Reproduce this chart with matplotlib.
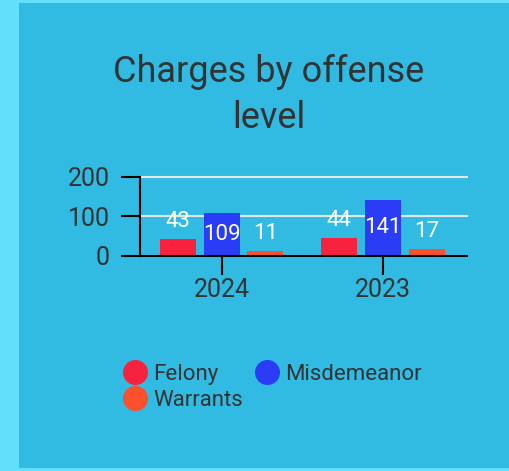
import numpy as np
import matplotlib.pyplot as plt
from matplotlib.patches import Rectangle
from matplotlib.lines import Line2D

plt.rcParams['font.family'] = ['Roboto', 'DejaVu Sans']

years = ["2024", "2023"]
series = ["Felony", "Misdemeanor", "Warrants"]
felony = [43, 44]
misdemeanor = [109, 141]
warrants = [11, 17]
colors = ["#f7233e", "#2a3cf6", "#f9502e"]
yticks = [0, 100, 200]

text_col = "#333333"

fig = plt.figure(figsize=(5.1, 4.71), dpi=100)
fig.patch.set_facecolor("#62dffa")
fig.patches.append(Rectangle((19 / 510, 3 / 471), 1, 1 - 6 / 471, transform=fig.transFigure,
                             facecolor="#31bbe2", edgecolor="none", zorder=-5))

fig.text(269 / 510, 1 - 95 / 471, "Charges by offense\nlevel", ha="center", va="center",
         fontsize=26, color=text_col, linespacing=1.35)

ax = fig.add_axes([140 / 510, 1 - 255.5 / 471, 327 / 510, 78.8 / 471])
ax.set_facecolor("none")

x = np.arange(len(years))
width = 0.223
step = 0.272
for i, (name, vals) in enumerate(zip(series, [felony, misdemeanor, warrants])):
    pos = x + (i - 1) * step
    bars = ax.bar(pos, vals, width, color=colors[i], label=name, zorder=3)
    for b, v in zip(bars, vals):
        cx = b.get_x() + b.get_width() / 2
        if v >= 100:
            ax.text(cx, v / 2, str(v), ha="center", va="center", color="white", fontsize=16, zorder=4)
        else:
            ax.annotate(str(v), (cx, v), xytext=(0, 7), textcoords="offset pixels",
                        ha="center", va="bottom", color="white", fontsize=16, zorder=4)

ax.set_xlim(-0.505, 1.52)
ax.set_ylim(0, 200)
ax.set_yticks(yticks)
ax.set_xticks(x)
ax.set_xticklabels(years)
ax.yaxis.grid(True, color="#e6e6e6", linewidth=1.5, zorder=1)
for gl in ax.get_ygridlines():
    gl.set_clip_on(False)
ax.tick_params(axis="both", labelsize=18, labelcolor=text_col, color="black",
               length=14, width=1.5)
ax.tick_params(axis="y", pad=8)
ax.tick_params(axis="x", pad=2)
for s in ["top", "right"]:
    ax.spines[s].set_visible(False)
for s in ["left", "bottom"]:
    ax.spines[s].set_linewidth(1.5)
    ax.spines[s].set_zorder(5)

handles = [Line2D([], [], marker="o", linestyle="none", markersize=17, color=colors[k],
                  label=series[k]) for k in [0, 2, 1]]
fig.legend(handles=handles, ncol=2, loc="upper left", bbox_to_anchor=(113 / 510, 1 - 353 / 471),
           frameon=False, fontsize=16, labelcolor=text_col, handlelength=1.0,
           handletextpad=0.3, columnspacing=0.6, labelspacing=0.2, borderpad=0)

fig.savefig("out.png", dpi=100, facecolor=fig.get_facecolor())
